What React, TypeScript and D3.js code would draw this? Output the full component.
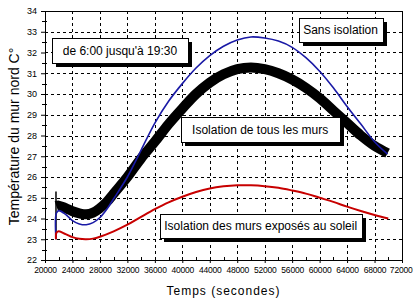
import React, { useRef, useEffect } from "react";
import * as d3 from "d3";

// axis ticks
const timeTicks = [20000, 24000, 28000, 32000, 36000, 40000, 44000, 48000, 52000, 56000, 60000, 64000, 68000, 72000];
const tempTicks = [22, 23, 24, 25, 26, 27, 28, 29, 30, 31, 32, 33, 34];

// Sans isolation (blue)
const sansTime = [21600, 21650, 22000, 23000, 24000, 25000, 26000, 27000, 28000, 29000, 30000, 32000, 34000, 36000, 38000, 40000, 42000, 44000, 46000, 48000, 50000, 52000, 54000, 56000, 58000, 60000, 62000, 64000, 66000, 68000, 69900];
const sansTemp = [23.0, 24.25, 24.38, 24.2, 23.9, 23.74, 23.7, 23.8, 24.05, 24.45, 24.95, 26.0, 27.3, 28.6, 29.65, 30.5, 31.25, 31.85, 32.3, 32.6, 32.75, 32.7, 32.55, 32.25, 31.75, 31.1, 30.3, 29.4, 28.55, 27.7, 27.1];

// Isolation de tous les murs (black band)
const tousTime = [21650, 22000, 23000, 24000, 25000, 26000, 27000, 28000, 29000, 30000, 32000, 34000, 36000, 38000, 40000, 42000, 44000, 46000, 48000, 50000, 52000, 54000, 56000, 58000, 60000, 62000, 64000, 66000, 68000, 69900];
const tousTemp = [24.6, 24.62, 24.5, 24.35, 24.25, 24.2, 24.28, 24.5, 24.8, 25.2, 26.0, 26.9, 27.7, 28.55, 29.3, 30.0, 30.55, 30.95, 31.2, 31.28, 31.2, 31.0, 30.7, 30.3, 29.8, 29.2, 28.6, 28.0, 27.5, 27.15];
const spikeTime = [21600, 21600];
const spikeTemp = [23.0, 25.3];

// Isolation des murs exposés au soleil (red)
const soleilTime = [21600, 21650, 22000, 23000, 24000, 25000, 26000, 27000, 28000, 30000, 32000, 34000, 36000, 38000, 40000, 42000, 44000, 46000, 48000, 50000, 52000, 54000, 56000, 58000, 60000, 62000, 64000, 66000, 68000, 70000];
const soleilTemp = [23.0, 23.3, 23.38, 23.25, 23.1, 23.02, 23.0, 23.03, 23.12, 23.38, 23.7, 24.08, 24.45, 24.78, 25.05, 25.28, 25.45, 25.55, 25.6, 25.6, 25.56, 25.48, 25.35, 25.2, 25.0, 24.8, 24.57, 24.36, 24.17, 24.0];

// text boxes, in data units: [t0, t1, tempTop, tempBottom]
const noteLabels = ["de 6:00 jusqu'à 19:30", "Sans isolation", "Isolation de tous les murs", "Isolation des murs exposés au soleil"];
const noteBoxes = [
  [21020, 40800, 32.7, 31.5],
  [56950, 69150, 33.66, 32.52],
  [39780, 62900, 28.9, 27.7],
  [36730, 66100, 24.22, 23.07],
];

const FONT = "'Liberation Sans', Arial, sans-serif";

const App = () => {
  const svgRef = useRef<SVGSVGElement>(null);

  useEffect(() => {
    const svg = d3.select(svgRef.current);
    svg.selectAll("*").remove();
    const width = 413,
      height = 305,
      margin = { top: 11, right: 11, bottom: 45, left: 45 };

    const x = d3.scaleLinear().domain([20000, 72000]).range([margin.left, width - margin.right]);
    const y = d3.scaleLinear().domain([22, 34]).range([height - margin.bottom, margin.top]);

    svg.append("rect").attr("width", width).attr("height", height).attr("fill", "#fff");

    // dashed grid
    const grid = svg.append("g").attr("stroke", "#000").attr("stroke-width", 1).attr("stroke-dasharray", "3,3");
    grid
      .selectAll(".gx")
      .data(timeTicks.slice(1, -1))
      .enter()
      .append("line")
      .attr("x1", (d) => Math.round(x(d)) + 0.5)
      .attr("x2", (d) => Math.round(x(d)) + 0.5)
      .attr("y1", y(22))
      .attr("y2", y(34));
    grid
      .selectAll(".gy")
      .data(tempTicks.slice(1, -1))
      .enter()
      .append("line")
      .attr("y1", (d) => Math.round(y(d)) + 0.5)
      .attr("y2", (d) => Math.round(y(d)) + 0.5)
      .attr("x1", x(20000))
      .attr("x2", x(72000));

    // minor ticks
    const minorX = d3.range(22000, 72000, 4000);
    const minorY = d3.range(22.5, 34, 1);
    svg
      .append("g")
      .selectAll("line")
      .data(minorX)
      .enter()
      .append("line")
      .attr("x1", (d) => Math.round(x(d)) + 0.5)
      .attr("x2", (d) => Math.round(x(d)) + 0.5)
      .attr("y1", y(22))
      .attr("y2", y(22) - 3)
      .attr("stroke", "#000");
    svg
      .append("g")
      .selectAll("line")
      .data(minorY)
      .enter()
      .append("line")
      .attr("y1", (d) => Math.round(y(d)) + 0.5)
      .attr("y2", (d) => Math.round(y(d)) + 0.5)
      .attr("x1", x(20000) - 3)
      .attr("x2", x(20000) + 2)
      .attr("stroke", "#000");

    // curves
    const line = d3
      .line<[number, number]>()
      .x((d) => x(d[0]))
      .y((d) => y(d[1]))
      .curve(d3.curveCatmullRom.alpha(0.5));

    const tous = tousTime.map((t, i) => [t, tousTemp[i]] as [number, number]);
    const sans = sansTime.map((t, i) => [t, sansTemp[i]] as [number, number]);
    const soleil = soleilTime.map((t, i) => [t, soleilTemp[i]] as [number, number]);
    const spike = spikeTime.map((t, i) => [t, spikeTemp[i]] as [number, number]);

    svg.append("path").datum(tous).attr("d", line).attr("fill", "none").attr("stroke", "#000").attr("stroke-width", 10);
    svg.append("path").datum(spike).attr("d", d3.line<[number, number]>().x((d) => x(d[0])).y((d) => y(d[1]))).attr("stroke", "#000").attr("stroke-width", 1.5);
    svg.append("path").datum(sans).attr("d", line).attr("fill", "none").attr("stroke", "#1a1aa6").attr("stroke-width", 1.6);
    svg.append("path").datum(soleil).attr("d", line).attr("fill", "none").attr("stroke", "#c80000").attr("stroke-width", 2);

    // frame
    svg
      .append("rect")
      .attr("x", x(20000) + 0.5)
      .attr("y", y(34) + 0.5)
      .attr("width", x(72000) - x(20000))
      .attr("height", y(22) - y(34))
      .attr("fill", "none")
      .attr("stroke", "#000");

    // axes
    const xAxis = d3.axisBottom(x).tickValues(timeTicks).tickSize(3).tickPadding(4).tickFormat(d3.format("d"));
    const yAxis = d3.axisLeft(y).tickValues(tempTicks).tickSize(4).tickPadding(4).tickFormat(d3.format("d"));
    const gx = svg.append("g").attr("transform", `translate(0,${y(22)})`).call(xAxis);
    const gy = svg.append("g").attr("transform", `translate(${x(20000)},0)`).call(yAxis);
    [gx, gy].forEach((g) => {
      g.select(".domain").remove();
      g.selectAll("line").attr("stroke", "#000");
      g.selectAll("text").attr("fill", "#000").style("font-family", FONT).style("font-size", "9px");
    });
    gx.selectAll("text").style("font-size", "8.5px").style("letter-spacing", "-0.2px");
    gx.selectAll("text").filter((d) => d === 72000).attr("text-anchor", "end").attr("dx", 10);

    // axis titles
    svg
      .append("text")
      .attr("x", (x(20000) + x(72000)) / 2)
      .attr("y", 295)
      .attr("text-anchor", "middle")
      .style("font-family", FONT)
      .style("font-size", "12px")
      .style("letter-spacing", "1px")
      .text("Temps (secondes)");
    svg
      .append("text")
      .attr("transform", `translate(19,${(y(22) + y(34)) / 2 + 1}) rotate(-90)`)
      .attr("text-anchor", "middle")
      .style("font-family", FONT)
      .style("font-size", "14px")
      .text("Température du mur nord C°");

    // annotation boxes with shadow
    const notes = svg
      .selectAll(".note")
      .data(noteBoxes)
      .enter()
      .append("g")
      .attr("class", "note");
    notes
      .append("rect")
      .attr("x", (d) => Math.round(x(d[0])) + 4)
      .attr("y", (d) => Math.round(y(d[2])) + 4)
      .attr("width", (d) => Math.round(x(d[1]) - x(d[0])))
      .attr("height", (d) => Math.round(y(d[3]) - y(d[2])))
      .attr("fill", "#000");
    notes
      .append("rect")
      .attr("x", (d) => Math.round(x(d[0])) + 0.5)
      .attr("y", (d) => Math.round(y(d[2])) + 0.5)
      .attr("width", (d) => Math.round(x(d[1]) - x(d[0])))
      .attr("height", (d) => Math.round(y(d[3]) - y(d[2])))
      .attr("fill", "#fff")
      .attr("stroke", "#000");
    notes
      .append("text")
      .attr("x", (d) => (x(d[0]) + x(d[1])) / 2)
      .attr("y", (d) => (y(d[2]) + y(d[3])) / 2 + 4.5)
      .attr("text-anchor", "middle")
      .style("font-family", FONT)
      .style("font-size", "12px")
      .text((d, i) => noteLabels[i]);
  }, []);

  return (
    <svg
      ref={svgRef}
      width={413}
      height={305}
      style={{ position: "absolute", left: 0, top: 0, display: "block" }}
    ></svg>
  );
};

export default App;
